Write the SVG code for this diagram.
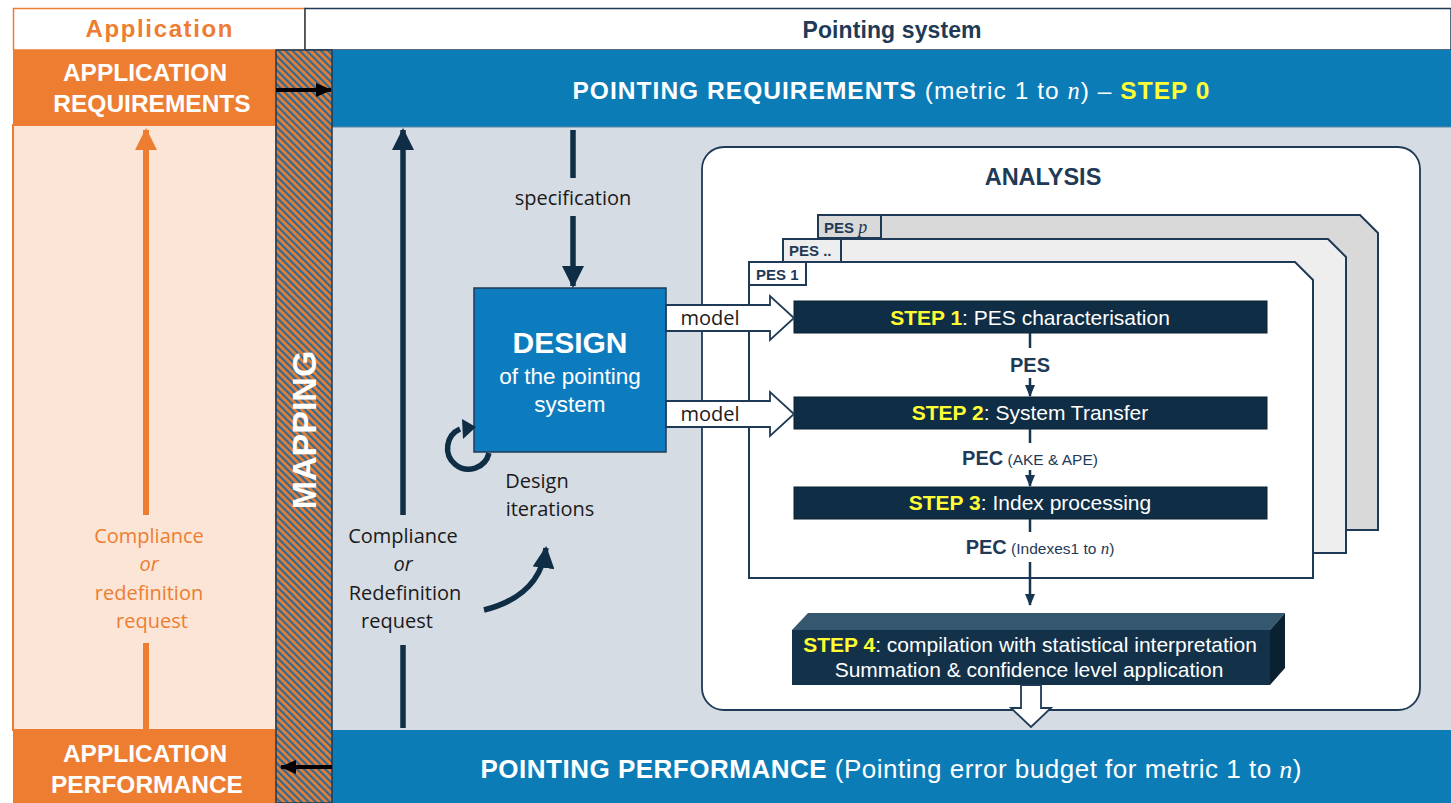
<svg xmlns="http://www.w3.org/2000/svg" width="1451" height="803" viewBox="0 0 1451 803">
  <style>
    .sans { font-family: "Liberation Sans", Arial, sans-serif; }
    .lbl { font-family: "Open Sans", Lato, sans-serif; font-size: 20px; fill: #1a1a1a; }
    .olbl { font-family: "Open Sans", Lato, sans-serif; font-size: 20px; fill: #ED7D31; }
    .math { font-family: "Liberation Serif", "DejaVu Serif", serif; font-style: italic; font-weight: normal; }
    .white { fill: #ffffff; }
    .yellow { fill: #FFFF33; font-weight: bold; }
    .navy { fill: #1F3A56; }
    .bar { fill: #0F2E45; stroke: #0A1F30; stroke-width: 1; }
    .frame { stroke: #1F3A56; stroke-width: 2; }
    .flow { stroke: #153550; stroke-width: 2.5; fill: none; }
    .thick { stroke: #0F2E45; stroke-width: 5.5; fill: none; }
    .hollow { fill: #ffffff; stroke: #1F3A56; stroke-width: 1.8; }
    .steptxt { font-family: "Liberation Sans", Arial, sans-serif; font-size: 21px; fill: #ffffff; text-anchor: middle; }
  </style>
  <defs>
    <pattern id="hatch" width="5" height="5" patternUnits="userSpaceOnUse" patternTransform="rotate(-45)">
      <rect width="5" height="5" fill="#E57F35"/>
      <rect width="2.2" height="5" fill="#2D6A98"/>
    </pattern>
    <marker id="headDark" markerUnits="userSpaceOnUse" markerWidth="22" markerHeight="22" viewBox="0 0 22 22" refX="20" refY="11" orient="auto">
      <path d="M0,0 L22,11 L0,22 Z" fill="#0F2E45"/>
    </marker>
    <marker id="headSmall" markerUnits="userSpaceOnUse" markerWidth="12" markerHeight="12" viewBox="0 0 12 12" refX="11" refY="6" orient="auto">
      <path d="M0,1 L12,6 L0,11 Z" fill="#153550"/>
    </marker>
    <marker id="headOrange" markerUnits="userSpaceOnUse" markerWidth="22" markerHeight="22" viewBox="0 0 22 22" refX="20" refY="11" orient="auto">
      <path d="M0,0 L22,11 L0,22 Z" fill="#ED7D31"/>
    </marker>
    <marker id="headBlack" markerUnits="userSpaceOnUse" markerWidth="16" markerHeight="16" viewBox="0 0 16 16" refX="15" refY="8" orient="auto">
      <path d="M0,1 L16,8 L0,15 Z" fill="#000000"/>
    </marker>
  </defs>

  <rect width="1451" height="803" fill="#ffffff"/>

  <!-- header row -->
  <g id="hdr-application">
    <rect x="13.5" y="8.5" width="291.5" height="41.5" fill="#ffffff" stroke="#ED7D31" stroke-width="1.5"/>
    <text x="159" y="37" class="sans" font-size="24" font-weight="bold" fill="#ED7D31" text-anchor="middle" textLength="147">Application</text>
  </g>
  <g id="hdr-pointing">
    <rect x="305" y="8.5" width="1146" height="41.5" fill="#ffffff" stroke="#1F3A56" stroke-width="1.5"/>
    <text x="892" y="38" class="sans navy" font-size="23" font-weight="bold" text-anchor="middle" textLength="179">Pointing system</text>
  </g>

  <!-- application column -->
  <g id="app-column">
    <rect x="13" y="125" width="263" height="605" fill="#FBE5D6" stroke="#ED7D31" stroke-width="2"/>
  </g>
  <g id="app-requirements">
    <rect x="13" y="50" width="263" height="75" fill="#ED7D31"/>
    <text x="145" y="81" class="sans white" font-size="24.5" font-weight="bold" text-anchor="middle">APPLICATION</text>
    <text x="152" y="112" class="sans white" font-size="24.5" font-weight="bold" text-anchor="middle">REQUIREMENTS</text>
  </g>
  <g id="app-performance">
    <rect x="13" y="730" width="263" height="73" fill="#ED7D31"/>
    <text x="145" y="762" class="sans white" font-size="24.5" font-weight="bold" text-anchor="middle">APPLICATION</text>
    <text x="147" y="793" class="sans white" font-size="24.5" font-weight="bold" text-anchor="middle">PERFORMANCE</text>
  </g>

  <!-- pointing system area -->
  <g id="ps-area">
    <rect x="332" y="127" width="1119" height="603" fill="#D6DCE4"/>
  </g>
  <g id="pointing-requirements">
    <rect x="332" y="50" width="1119" height="77" fill="#0C7CB7"/>
    <line x1="332" y1="127" x2="1451" y2="127" stroke="#5E86A6" stroke-width="1"/>
    <text x="891" y="99" class="sans white" font-size="24.5" text-anchor="middle" textLength="637"><tspan font-weight="bold">POINTING REQUIREMENTS</tspan> (metric 1 to <tspan class="math">n</tspan>) – <tspan class="yellow">STEP 0</tspan></text>
  </g>
  <g id="pointing-performance">
    <rect x="332" y="730" width="1119" height="73" fill="#0C7CB7"/>
    <text x="891" y="778" class="sans white" font-size="26" text-anchor="middle" textLength="821"><tspan font-weight="bold">POINTING PERFORMANCE</tspan> (Pointing error budget for metric 1 to <tspan class="math">n</tspan>)</text>
  </g>

  <!-- mapping band -->
  <g id="mapping">
    <rect x="276" y="50" width="56" height="753" fill="url(#hatch)" stroke="#1F3A56" stroke-width="1.5"/>
    <text transform="translate(316,430) rotate(-90)" class="sans white" font-size="34" font-weight="bold" text-anchor="middle">MAPPING</text>
  </g>

  <!-- analysis panel -->
  <g id="analysis">
    <rect x="702" y="147" width="718" height="563" rx="22" fill="#ffffff" stroke="#1F3A56" stroke-width="1.8"/>
    <text x="1043" y="185" class="sans navy" font-size="23.5" font-weight="bold" text-anchor="middle">ANALYSIS</text>
  </g>

  <!-- error source sheets, back to front -->
  <g id="pes-p">
    <path d="M818,215 H1360 L1378,233 V530 H818 Z" fill="#D9D9D9" class="frame"/>
    <rect x="818" y="215" width="63" height="23" fill="#D9D9D9" class="frame"/>
    <text x="824" y="233" class="sans navy" font-size="15" font-weight="bold">PES <tspan class="math" font-size="18">p</tspan></text>
  </g>
  <g id="pes-dots">
    <path d="M783,239 H1328 L1346,257 V553 H783 Z" fill="#EEEEEE" class="frame"/>
    <rect x="783" y="239" width="58" height="23" fill="#EEEEEE" class="frame"/>
    <text x="789" y="256" class="sans navy" font-size="15" font-weight="bold">PES ..</text>
  </g>
  <g id="pes-1">
    <path d="M749,262 H1295 L1313,280 V578 H749 Z" fill="#ffffff" class="frame"/>
    <rect x="749" y="262" width="57" height="23" fill="#ffffff" class="frame"/>
    <text x="756" y="280" class="sans navy" font-size="15" font-weight="bold">PES 1</text>
  </g>

  <!-- processing steps -->
  <g id="step1">
    <rect x="794" y="301" width="473" height="32" class="bar"/>
    <text x="1030" y="325" class="steptxt"><tspan class="yellow">STEP 1</tspan>: PES characterisation</text>
  </g>
  <g id="step2">
    <rect x="794" y="397" width="473" height="32" class="bar"/>
    <text x="1030" y="420" class="steptxt"><tspan class="yellow">STEP 2</tspan>: System Transfer</text>
  </g>
  <g id="step3">
    <rect x="794" y="487" width="473" height="32" class="bar"/>
    <text x="1030" y="510" class="steptxt"><tspan class="yellow">STEP 3</tspan>: Index processing</text>
  </g>
  <g id="step4">
    <path d="M792,630 L808,613 H1285 L1270,630 Z" fill="#35586F"/>
    <path d="M1270,630 L1285,613 V668 L1270,685 Z" fill="#0A2132"/>
    <rect x="792" y="630" width="478" height="55" fill="#13324A"/>
    <text x="1030" y="652" class="steptxt" font-size="20"><tspan class="yellow">STEP 4</tspan>: compilation with statistical interpretation</text>
    <text x="1029" y="677" class="steptxt" font-size="20">Summation &amp; confidence level application</text>
  </g>

  <!-- design node -->
  <g id="design">
    <rect x="474" y="288" width="192" height="164" fill="#0C7CBF" stroke="#1F3A56" stroke-width="1.5"/>
    <text x="570" y="353" class="sans white" font-size="30" font-weight="bold" text-anchor="middle">DESIGN</text>
    <text x="570" y="384" class="sans white" font-size="22.5" text-anchor="middle">of the pointing</text>
    <text x="570" y="412" class="sans white" font-size="22.5" text-anchor="middle">system</text>
  </g>

  <!-- connectors -->
  <g id="connectors">
    <!-- orange compliance loop on application side -->
    <line x1="146" y1="730" x2="146" y2="643" stroke="#ED7D31" stroke-width="6"/>
    <line x1="146" y1="515" x2="146" y2="130" stroke="#ED7D31" stroke-width="6" marker-end="url(#headOrange)"/>
    <text x="149" y="543" class="olbl" text-anchor="middle">Compliance</text>
    <text x="149" y="571" class="olbl" text-anchor="middle" font-style="italic">or</text>
    <text x="149" y="600" class="olbl" text-anchor="middle">redefinition</text>
    <text x="152" y="628" class="olbl" text-anchor="middle">request</text>

    <!-- mapping transfers -->
    <line x1="276" y1="90" x2="331" y2="90" stroke="#000" stroke-width="4" marker-end="url(#headBlack)"/>
    <line x1="332" y1="767" x2="281" y2="767" stroke="#000" stroke-width="4" marker-end="url(#headBlack)"/>

    <!-- compliance / redefinition on pointing side -->
    <line x1="403" y1="728" x2="403" y2="645" class="thick"/>
    <line x1="403" y1="515" x2="403" y2="130" class="thick" marker-end="url(#headDark)"/>
    <text x="403" y="543" class="lbl" text-anchor="middle">Compliance</text>
    <text x="403" y="571" class="lbl" text-anchor="middle" font-style="italic">or</text>
    <text x="405" y="600" class="lbl" text-anchor="middle">Redefinition</text>
    <text x="397" y="628" class="lbl" text-anchor="middle">request</text>
    <path d="M484,610 Q540,596 546,548" class="thick" marker-end="url(#headDark)"/>

    <!-- specification -->
    <line x1="573" y1="130" x2="573" y2="178" class="thick"/>
    <line x1="573" y1="216" x2="573" y2="286" class="thick" marker-end="url(#headDark)"/>
    <text x="573" y="205" class="lbl" text-anchor="middle">specification</text>

    <!-- design iterations loop -->
    <path d="M489,453 A21,21 0 1 1 460,429" class="thick" stroke-width="5"/>
    <path d="M462,419 L476,427 L463,439 Z" fill="#0F2E45"/>
    <text x="537" y="488" class="lbl" text-anchor="middle">Design</text>
    <text x="550" y="516" class="lbl" text-anchor="middle">iterations</text>

    <!-- model hand-over -->
    <path d="M666,305 H770 V296 L794,318 L770,340 V331 H666 Z" class="hollow"/>
    <text x="710" y="325" class="lbl" text-anchor="middle">model</text>
    <path d="M666,401 H770 V392 L794,414 L770,436 V427 H666 Z" class="hollow"/>
    <text x="710" y="421" class="lbl" text-anchor="middle">model</text>

    <!-- step chain -->
    <line x1="1030" y1="333" x2="1030" y2="348" class="flow"/>
    <line x1="1030" y1="378" x2="1030" y2="396" class="flow" marker-end="url(#headSmall)"/>
    <text x="1030" y="372" class="sans navy" font-size="20" font-weight="bold" text-anchor="middle">PES</text>
    <line x1="1030" y1="429" x2="1030" y2="443" class="flow"/>
    <line x1="1030" y1="470" x2="1030" y2="486" class="flow" marker-end="url(#headSmall)"/>
    <text x="1030" y="465" class="sans navy" text-anchor="middle"><tspan font-size="20" font-weight="bold">PEC</tspan><tspan font-size="15.5"> (AKE &amp; APE)</tspan></text>
    <line x1="1030" y1="519" x2="1030" y2="532" class="flow"/>
    <line x1="1030" y1="562" x2="1030" y2="605" class="flow" marker-end="url(#headSmall)"/>
    <text x="1040" y="554" class="sans navy" text-anchor="middle"><tspan font-size="20" font-weight="bold">PEC</tspan><tspan font-size="15.5"> (Indexes1 to </tspan><tspan class="math" font-size="17">n</tspan><tspan font-size="15.5">)</tspan></text>

    <!-- budget output -->
    <path d="M1021,685 H1041 V708 H1051 L1031,727 L1011,708 H1021 Z" class="hollow"/>
  </g>
</svg>
